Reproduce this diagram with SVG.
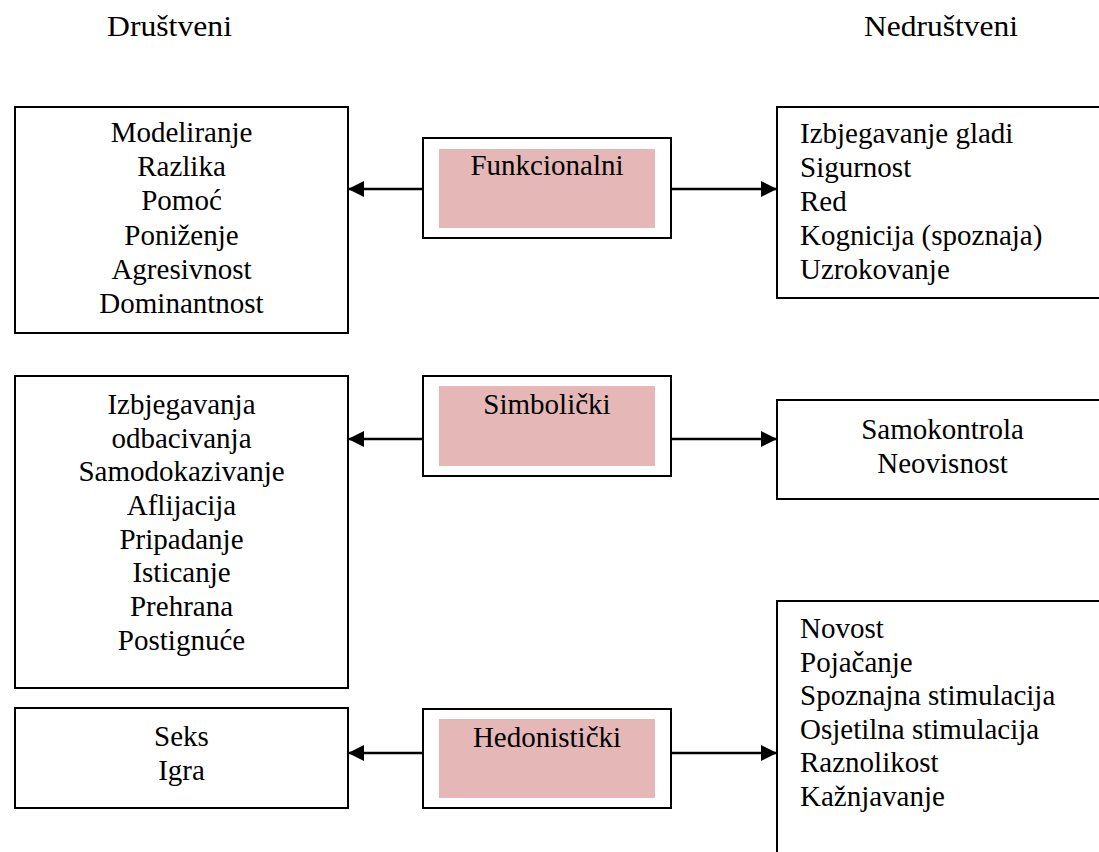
<svg xmlns="http://www.w3.org/2000/svg" width="1099" height="852" viewBox="0 0 1099 852">
<style>
.t{font-family:"Liberation Serif","Times New Roman",serif;font-size:29px;fill:#000}
.c{text-anchor:middle}
.box{fill:#fff;stroke:#000;stroke-width:2}
.pink{fill:#E5B8B7;stroke:none}
.conn{stroke:#000;stroke-width:2.5;fill:none}
</style>
<defs>
<marker id="ah" markerUnits="userSpaceOnUse" markerWidth="16" markerHeight="16" refX="16" refY="8" orient="auto">
<path d="M0,0 L16,8 L0,16 Z" fill="#000"/>
</marker>
</defs>
<rect width="1099" height="852" fill="#fff"/>
<g id="headings">
<text class="t" x="107" y="36" textLength="125" lengthAdjust="spacingAndGlyphs">Društveni</text>
<text class="t" x="864" y="36" textLength="154" lengthAdjust="spacingAndGlyphs">Nedruštveni</text>
</g>
<g id="social1">
<rect class="box" x="15" y="107" width="333" height="226"/>
<text class="t c" x="181.5" y="142">Modeliranje</text>
<text class="t c" x="181.5" y="176">Razlika</text>
<text class="t c" x="181.5" y="210">Pomoć</text>
<text class="t c" x="181.5" y="245">Poniženje</text>
<text class="t c" x="181.5" y="279">Agresivnost</text>
<text class="t c" x="181.5" y="313">Dominantnost</text>
</g>
<g id="funkcionalni">
<rect class="box" x="423" y="138" width="248" height="100"/>
<rect class="pink" x="439" y="149" width="216" height="79"/>
<text class="t c" x="547" y="175">Funkcionalni</text>
</g>
<g id="nonsocial1">
<rect class="box" x="777" y="107" width="340" height="191"/>
<text class="t" x="800" y="143">Izbjegavanje gladi</text>
<text class="t" x="800" y="177">Sigurnost</text>
<text class="t" x="800" y="211">Red</text>
<text class="t" x="800" y="245">Kognicija (spoznaja)</text>
<text class="t" x="800" y="279">Uzrokovanje</text>
</g>
<g id="social2">
<rect class="box" x="15" y="376" width="333" height="312"/>
<text class="t c" x="181.5" y="414">Izbjegavanja</text>
<text class="t c" x="181.5" y="448">odbacivanja</text>
<text class="t c" x="181.5" y="481">Samodokazivanje</text>
<text class="t c" x="181.5" y="515">Aflijacija</text>
<text class="t c" x="181.5" y="549">Pripadanje</text>
<text class="t c" x="181.5" y="582">Isticanje</text>
<text class="t c" x="181.5" y="616">Prehrana</text>
<text class="t c" x="181.5" y="650">Postignuće</text>
</g>
<g id="simbolicki">
<rect class="box" x="423" y="376" width="248" height="100"/>
<rect class="pink" x="439" y="386" width="216" height="80"/>
<text class="t c" x="547" y="414">Simbolički</text>
</g>
<g id="nonsocial2">
<rect class="box" x="777" y="400" width="331" height="99"/>
<text class="t c" x="942.5" y="439">Samokontrola</text>
<text class="t c" x="942.5" y="473">Neovisnost</text>
</g>
<g id="social3">
<rect class="box" x="15" y="708" width="333" height="100"/>
<text class="t c" x="181.5" y="746">Seks</text>
<text class="t c" x="181.5" y="780">Igra</text>
</g>
<g id="hedonisticki">
<rect class="box" x="423" y="709" width="248" height="99"/>
<rect class="pink" x="439" y="719" width="216" height="79"/>
<text class="t c" x="547" y="747">Hedonistički</text>
</g>
<g id="nonsocial3">
<rect class="box" x="777" y="601" width="340" height="270"/>
<text class="t" x="800" y="638">Novost</text>
<text class="t" x="800" y="672">Pojačanje</text>
<text class="t" x="800" y="705">Spoznajna stimulacija</text>
<text class="t" x="800" y="739">Osjetilna stimulacija</text>
<text class="t" x="800" y="772">Raznolikost</text>
<text class="t" x="800" y="806">Kažnjavanje</text>
</g>
<g id="connectors">
<line class="conn" x1="423" y1="189" x2="348" y2="189" marker-end="url(#ah)"/>
<line class="conn" x1="671" y1="189" x2="777" y2="189" marker-end="url(#ah)"/>
<line class="conn" x1="423" y1="439" x2="348" y2="439" marker-end="url(#ah)"/>
<line class="conn" x1="671" y1="439" x2="777" y2="439" marker-end="url(#ah)"/>
<line class="conn" x1="423" y1="753" x2="348" y2="753" marker-end="url(#ah)"/>
<line class="conn" x1="671" y1="753" x2="777" y2="753" marker-end="url(#ah)"/>
</g>
</svg>
